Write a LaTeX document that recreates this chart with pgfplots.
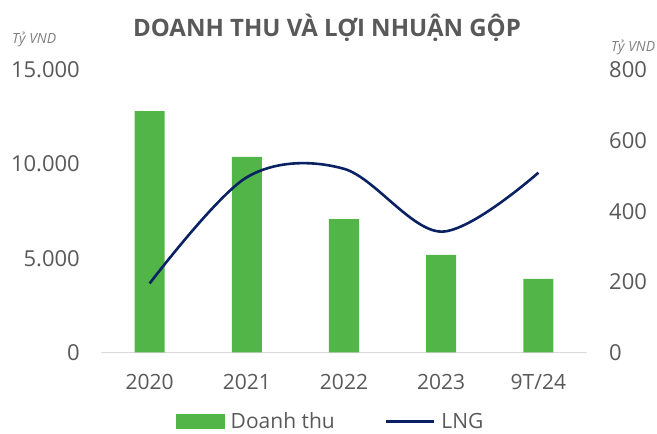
\documentclass[border=0pt]{standalone}
\usepackage{pgfplots}
\pgfplotsset{compat=1.18}
\usepackage{fontspec}
\setmainfont{Open Sans}
\definecolor{bargreen}{HTML}{52B548}
\definecolor{lngblue}{HTML}{0A2263}
\definecolor{txtgray}{HTML}{595959}
\definecolor{unitgray}{HTML}{808080}
\definecolor{basegray}{HTML}{D9D9D9}
\begin{document}
\begin{tikzpicture}
\useasboundingbox (0,0) rectangle (657bp,434bp);
\pgfplotsset{
  common/.style={
    at={(101bp,81.7bp)}, anchor=south west, scale only axis,
    width=486bp, height=282.3bp,
    xmin=-0.5, xmax=4.5,
    major tick length=0pt,
    tick label style={font=\fontsize{21bp}{25bp}\selectfont, text=txtgray},
    /pgf/number format/.cd, assume math mode=true, 1000 sep={.},
  },
}
\begin{axis}[common,
  ymin=0, ymax=15000, ytick={0,5000,10000,15000},
  scaled y ticks=false,
  axis x line*=bottom, axis y line*=left,
  x axis line style={draw=basegray, line width=1.5bp},
  y axis line style={draw=none},
  xtick={0,1,2,3,4}, xticklabels={2020,2021,2022,2023,9T/24},
  xticklabel style={inner sep=0pt, anchor=north, yshift=-22bp},
  yticklabel style={inner sep=0pt, anchor=east, xshift=-21bp, font=\fontsize{22bp}{26bp}\selectfont},
]
\addplot[ybar, bar width=30bp, fill=bargreen, draw=none] coordinates {
  (0,12820) (1,10390) (2,7070) (3,5170) (4,3900)};
\end{axis}
\begin{axis}[common,
  ymin=0, ymax=800, ytick={0,200,400,600,800},
  axis y line*=right, y axis line style={draw=none},
  hide x axis,
  yticklabel style={inner sep=0pt, anchor=west, xshift=22bp, font=\fontsize{22bp}{26bp}\selectfont},
  legend style={at={(0.473,-0.245)}, anchor=center, draw=none, fill=none,
    legend columns=-1, font=\fontsize{21bp}{25bp}\selectfont, text=txtgray,
    /tikz/every odd column/.append style={column sep=4bp},
    /tikz/every even column/.append style={column sep=48bp},
    inner sep=0pt},
  legend cell align=left,
]
\addlegendimage{legend image code/.code={\fill[bargreen] (0bp,-7bp) rectangle (48bp,7bp);}}
\addlegendentry{Doanh thu}
\addplot[lngblue, line width=2.6bp, smooth, tension=0.55,
  legend image code/.code={\draw[lngblue, line width=2.6bp] (0bp,0bp) -- (48bp,0bp);}] coordinates {
  (0,195) (1,496) (2,520) (3,342) (4,509)};
\addlegendentry{LNG}
\end{axis}
\node[text=txtgray, font=\fontsize{24bp}{28bp}\selectfont\bfseries] at (327bp,406bp) {DOANH THU VÀ LỢI NHUẬN GỘP};
\node[anchor=west, inner sep=0pt, text=unitgray, font=\fontsize{14bp}{17bp}\selectfont\itshape] at (12bp,395bp) {Tỷ VND};
\node[anchor=west, inner sep=0pt, text=unitgray, font=\fontsize{14bp}{17bp}\selectfont\itshape] at (611bp,387bp) {Tỷ VND};
\end{tikzpicture}
\end{document}
